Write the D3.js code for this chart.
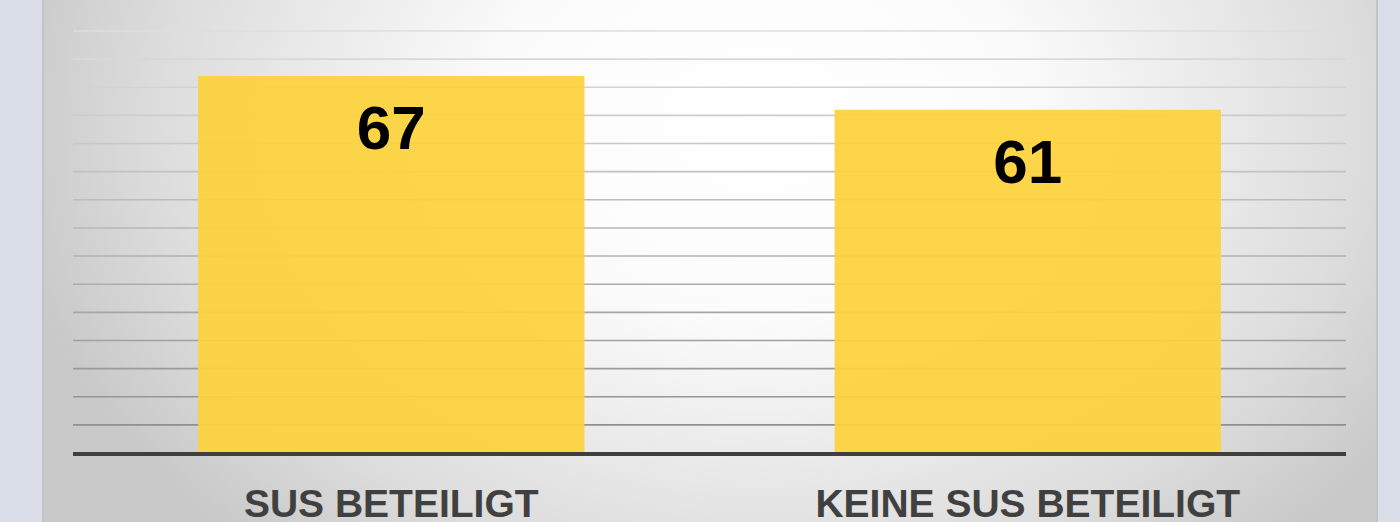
<!DOCTYPE html>
<html>
<head>
<meta charset="utf-8">
<script src="https://cdn.jsdelivr.net/npm/d3@7"></script>
<style>
  html, body { margin: 0; padding: 0; background: #d9dde8; overflow: hidden; }
</style>
</head>
<body>
<div id="container"></div>
<script>
const w = 1400;
const h = 522;

const categories = ["SUS BETEILIGT", "KEINE SUS BETEILIGT"];
const values = [67, 61];
const yMax = 75;
const yStep = 5;

const svg = d3.select("#container")
  .append("svg")
  .attr("width", w)
  .attr("height", h);

const defs = svg.append("defs");

const bg = defs.append("radialGradient")
  .attr("id", "panelBg")
  .attr("gradientUnits", "userSpaceOnUse")
  .attr("cx", 760).attr("cy", 120)
  .attr("r", 760)
  .attr("gradientTransform", "translate(760,120) scale(1,0.75) translate(-760,-120)");
bg.append("stop").attr("offset", "0").attr("stop-color", "#ffffff");
bg.append("stop").attr("offset", "0.35").attr("stop-color", "#fbfbfb");
bg.append("stop").attr("offset", "0.8").attr("stop-color", "#dcdcdc");
bg.append("stop").attr("offset", "1").attr("stop-color", "#c9c9c9");

const gridGrad = defs.append("linearGradient")
  .attr("id", "gridGrad")
  .attr("gradientUnits", "userSpaceOnUse")
  .attr("x1", 0).attr("y1", 0).attr("x2", 0).attr("y2", 453);
gridGrad.append("stop").attr("offset", "0").attr("stop-color", "#e4e4e4");
gridGrad.append("stop").attr("offset", "1").attr("stop-color", "#8a8a8a");

// panel
svg.append("rect")
  .attr("x", 43)
  .attr("y", -2)
  .attr("width", 1334)
  .attr("height", h + 4)
  .attr("fill", "url(#panelBg)")
  .attr("stroke", "#c2c4c8")
  .attr("stroke-width", 2);

const left = 73, right = 1346;

const xScale = d3.scaleBand()
  .domain(categories)
  .range([left, right])
  .paddingInner(0.393)
  .paddingOuter(0.1965);

const yScale = d3.scaleLinear()
  .domain([0, yMax])
  .range([453, 31]);

const gridTicks = d3.range(yStep, yMax + 1, yStep);

// gridlines
svg.append("g")
  .selectAll("line")
  .data(gridTicks)
  .enter()
  .append("line")
  .attr("x1", left)
  .attr("x2", right)
  .attr("y1", (d) => yScale(d))
  .attr("y2", (d) => yScale(d))
  .attr("stroke", "url(#gridGrad)")
  .attr("stroke-width", 1.6);

// bars
svg.append("g")
  .selectAll("rect")
  .data(values)
  .enter()
  .append("rect")
  .attr("x", (d, i) => xScale(categories[i]))
  .attr("y", (d) => yScale(d))
  .attr("width", xScale.bandwidth())
  .attr("height", (d) => yScale(0) - yScale(d))
  .attr("fill", "#fcd23a")
  .attr("fill-opacity", 0.93);

// value labels
svg.append("g")
  .selectAll("text")
  .data(values)
  .enter()
  .append("text")
  .attr("x", (d, i) => xScale(categories[i]) + xScale.bandwidth() / 2)
  .attr("y", (d) => yScale(d) + 73)
  .attr("text-anchor", "middle")
  .style("font-family", "'Liberation Sans', Arial, sans-serif")
  .style("font-weight", "bold")
  .style("font-size", "62px")
  .attr("fill", "#000")
  .text((d) => d);

// baseline
svg.append("line")
  .attr("x1", left)
  .attr("x2", right)
  .attr("y1", yScale(0) + 1)
  .attr("y2", yScale(0) + 1)
  .attr("stroke", "#3f3f3f")
  .attr("stroke-width", 4);

// category labels
const xAxis = d3.axisBottom(xScale).tickSize(0).tickPadding(0);
const xg = svg.append("g")
  .attr("transform", "translate(0,517)")
  .call(xAxis);
xg.select(".domain").remove();
xg.selectAll("text")
  .attr("dy", 0)
  .style("font-family", "'Liberation Sans', Arial, sans-serif")
  .style("font-weight", "bold")
  .style("font-size", "39px")
  .attr("fill", "#404040");
</script>
</body>
</html>
